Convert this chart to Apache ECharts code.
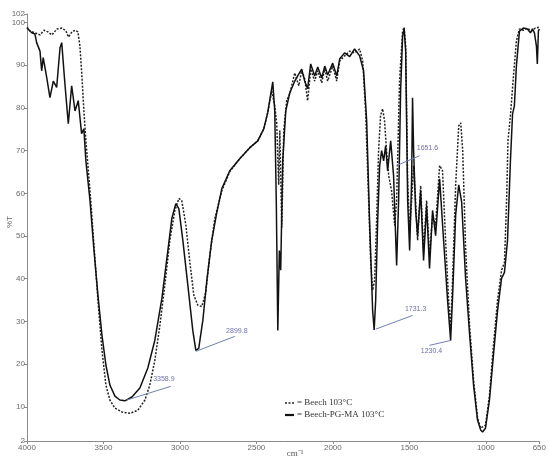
<!DOCTYPE html>
<html><head><meta charset="utf-8">
<script src="https://cdn.jsdelivr.net/npm/echarts@6/dist/echarts.min.js"></script>
<style>html,body{margin:0;padding:0;background:#fff}#c{width:549px;height:461px}</style>
</head><body><div id="c"></div>
<script>
// Beech 103°C (dashed)
const beechWn=[4000,3980,3948,3915,3889,3863,3837,3804,3771,3745,3729,3706,3686,3667,3654,3641,3628,3615,3588,3562,3536,3510,3484,3458,3425,3379,3327,3275,3229,3197,3164,3131,3099,3066,3033,3007,2988,2961,2935,2909,2883,2857,2831,2805,2772,2726,2674,2609,2543,2491,2452,2426,2400,2380,2367,2354,2347,2334,2321,2302,2282,2249,2223,2204,2184,2165,2145,2119,2099,2073,2053,2034,2001,1975,1955,1923,1890,1858,1825,1805,1786,1766,1753,1740,1727,1714,1701,1688,1675,1662,1649,1635,1616,1596,1583,1564,1544,1534,1524,1511,1498,1485,1472,1459,1446,1426,1407,1387,1368,1348,1328,1302,1283,1263,1243,1230,1217,1197,1177,1164,1151,1132,1106,1080,1054,1034,1021,1002,976,950,923,897,878,864,855,839,819,800,780,754,728,702,676,650];
const beechT=[98.9,98.0,97.6,97.1,98.2,97.8,97.1,98.5,98.7,98.0,96.6,97.8,98.2,97.8,94.5,87.5,79.3,72.3,60.6,47.8,34.9,23.3,15.1,11.6,9.7,8.8,8.5,9.2,11.6,15.1,20.9,29.1,38.4,49.0,56.0,58.8,58.3,52.5,43.8,36.1,33.8,33.5,36.8,45.5,54.1,60.6,65.1,68.1,70.7,72.3,75.1,78.9,84.0,80.5,76.3,62.0,74.7,52.0,74.7,81.7,83.3,88.2,85.2,88.7,86.8,81.7,89.1,86.3,88.7,85.9,89.1,86.3,89.8,86.3,91.0,92.2,93.3,92.9,93.8,91.0,79.3,58.3,44.3,37.3,39.6,53.6,70.0,78.2,79.8,77.0,70.0,64.1,60.6,52.5,58.3,86.3,98.0,98.9,94.5,63.0,51.3,58.3,66.5,58.3,49.0,61.8,46.6,58.3,45.5,54.8,52.5,66.5,65.3,49.0,35.0,28.0,40.0,62.0,75.8,76.5,70.0,47.0,29.0,16.3,7.4,5.0,4.6,5.7,12.7,24.4,35.0,42.0,43.8,58.3,72.3,78.2,87.5,95.7,98.5,98.2,98.7,98.0,98.7,98.9];
// Beech-PG-MA 103°C (solid)
const pgmaWn=[4000,3969,3948,3937,3915,3904,3894,3871,3850,3828,3806,3784,3773,3752,3730,3708,3686,3665,3643,3628,3615,3588,3562,3536,3510,3484,3458,3425,3393,3360,3314,3262,3210,3164,3118,3079,3053,3027,3007,2981,2948,2916,2896,2877,2850,2824,2792,2759,2726,2674,2609,2543,2491,2452,2426,2393,2380,2370,2360,2350,2341,2328,2308,2282,2249,2230,2204,2184,2165,2145,2119,2099,2073,2053,2034,2001,1975,1955,1923,1890,1858,1825,1799,1779,1760,1740,1730,1720,1707,1694,1681,1668,1655,1642,1622,1603,1583,1570,1557,1544,1534,1524,1511,1498,1485,1479,1472,1459,1446,1426,1407,1387,1368,1348,1328,1302,1276,1250,1230,1217,1197,1177,1158,1132,1106,1080,1054,1034,1021,1002,976,950,923,897,878,858,839,825,813,800,780,754,728,708,695,682,669,663,656,650];
const pgmaT=[98.7,97.6,97.3,95.3,93.3,88.7,91.8,87.1,82.4,86.3,84.8,94.1,95.3,85.6,76.3,85.2,79.3,81.7,74.0,75.1,67.6,58.3,46.6,36.1,26.8,19.8,15.1,12.5,11.6,11.4,12.3,14.4,19.1,25.6,35.4,46.6,54.1,57.6,56.4,49.0,38.4,27.9,23.2,23.7,30.3,39.6,49.0,55.5,61.1,65.3,68.1,70.7,72.3,75.1,78.9,86.1,79.3,58.3,27.9,46.6,42.0,67.6,79.3,83.5,86.3,87.5,89.1,86.3,84.5,90.3,87.5,89.6,87.0,89.8,87.7,90.5,87.5,91.5,92.9,92.0,93.8,92.2,88.7,77.0,53.6,32.6,28.0,35.0,53.6,66.5,70.0,67.6,71.1,65.3,72.3,64.1,43.1,58.3,84.0,96.8,98.5,93.3,58.3,46.6,63.0,82.4,70.0,56.0,50.1,60.6,44.3,57.1,42.4,56.0,50.1,63.4,49.0,35.0,25.6,36.0,55.0,62.0,58.0,40.0,27.0,15.1,6.9,4.6,4.1,5.0,11.6,22.1,32.6,40.1,41.5,49.0,67.6,78.6,80.5,89.8,98.0,98.7,98.5,97.6,98.5,97.6,94.5,90.3,98.0,98.5];

const xTicks=[4000,3500,3000,2500,2000,1500,1000,650];
const yTicks=[2,10,20,30,40,50,60,70,80,90,100,102];

const annLabels=['3358.9','2899.8','1731.3','1230.4','1651.6'];
const annFrom=[[3347,11.6],[2896,23.0],[1720,28.2],[1224,25.6],[1583,66.5]];
const annTo=[[3060,14.8],[2641,26.5],[1479,31.4],[1368,24.4],[1433,68.8]];
const annText=[[3105,16.5],[2628,27.8],[1459,32.8],[1355,23.0],[1381,70.6]];

const zip=(a,b)=>a.map((v,i)=>[v,b[i]]);
const chart=echarts.init(document.getElementById('c'),null,{renderer:'canvas'});
const axisCol='#8a8a8a', labCol='#6a6a6a';
chart.setOption({
  animation:false,
  backgroundColor:'#fff',
  grid:{left:27,right:9,top:14,bottom:20,containLabel:false},
  xAxis:{type:'value',inverse:true,min:650,max:4000,
    axisLine:{lineStyle:{color:axisCol,width:1}},
    axisTick:{show:true,length:3,customValues:xTicks,lineStyle:{color:axisCol}},
    axisLabel:{customValues:xTicks,formatter:v=>String(v),color:labCol,fontSize:8,fontFamily:'Liberation Sans',margin:3},
    splitLine:{show:false}},
  yAxis:{type:'value',min:2,max:102,
    axisLine:{show:true,lineStyle:{color:axisCol,width:1}},
    axisTick:{show:true,length:3,customValues:yTicks,lineStyle:{color:axisCol}},
    axisLabel:{customValues:yTicks,formatter:v=>String(v),color:labCol,fontSize:8,fontFamily:'Liberation Sans',margin:2},
    splitLine:{show:false}},
  series:[
    {name:'Beech 103°C',type:'line',data:zip(beechWn,beechT),showSymbol:false,
     lineStyle:{color:'#222',width:1.5,type:[2,1.5]}},
    {name:'Beech-PG-MA 103°C',type:'line',data:zip(pgmaWn,pgmaT),showSymbol:false,
     lineStyle:{color:'#111',width:1.5},
     markLine:{silent:true,symbol:['none','none'],label:{show:false},
       lineStyle:{color:'#7080b0',width:1,type:'solid'},
       data:annFrom.map((f,i)=>[{coord:f},{coord:annTo[i]}])}},
    {name:'ann',type:'scatter',symbolSize:1,itemStyle:{color:'rgba(0,0,0,0)'},silent:true,
     data:annText.map((p,i)=>({value:p,name:annLabels[i]})),
     label:{show:true,position:'inside',formatter:'{b}',color:'#4a4a9a',fontSize:7,fontFamily:'Liberation Sans'}}
  ],
  graphic:[
    {type:'line',shape:{x1:285,y1:403,x2:294,y2:403},style:{stroke:'#222',lineWidth:1.3,lineDash:[2,1.5]},z:100},
    {type:'text',x:297,y:403,style:{text:'= Beech 103°C',font:'9px "Liberation Serif"',fill:'#333',verticalAlign:'middle'},z:100},
    {type:'line',shape:{x1:285,y1:415,x2:294,y2:415},style:{stroke:'#111',lineWidth:2.2},z:100},
    {type:'text',x:297,y:415,style:{text:'= Beech-PG-MA 103°C',font:'9px "Liberation Serif"',fill:'#333',verticalAlign:'middle'},z:100},
    {type:'text',x:295,y:454,style:{text:'cm⁻¹',font:'9px "Liberation Serif"',fill:'#555',align:'center',verticalAlign:'middle'},z:100},
    {type:'text',x:10,y:222,rotation:Math.PI/2,style:{text:'%T',font:'8px "Liberation Sans"',fill:'#666',align:'center',verticalAlign:'middle'},z:100}
  ]
});
</script></body></html>
